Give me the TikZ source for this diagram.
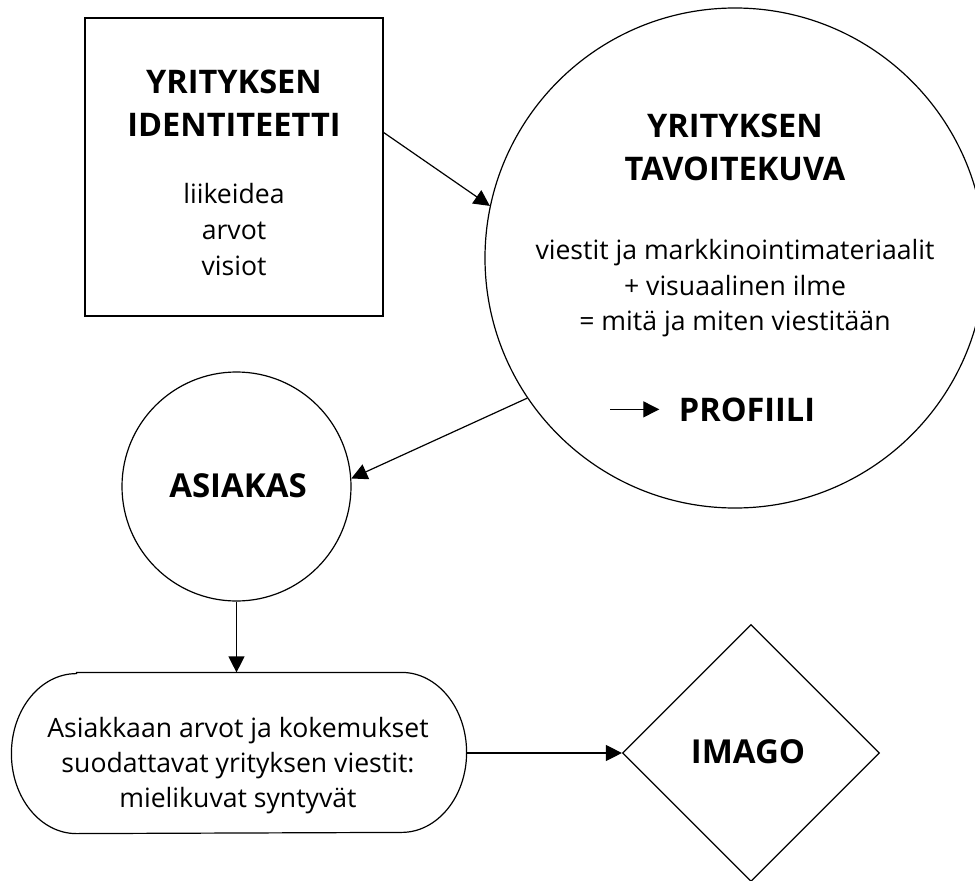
\documentclass[tikz,border=0pt]{standalone}
\usepackage{fontspec}
\setmainfont{Open Sans}
\usetikzlibrary{arrows.meta,shapes.geometric}
\begin{document}
\begin{tikzpicture}[x=1pt,y=-1pt,line width=1.2pt,
  shapebox/.style={draw, line width=1.2pt, inner sep=0pt},
  reg/.style={font=\fontsize{26.6}{32}\selectfont, anchor=base, inner sep=0pt},
  hd/.style={font=\fontsize{32.5}{38}\selectfont\bfseries, anchor=base, inner sep=0pt},
  hdl/.style={font=\fontsize{33}{40}\selectfont\bfseries, anchor=base, inner sep=0pt},
  arr/.style={-{Triangle[length=16pt,width=16pt]}, line width=1.2pt}]
\useasboundingbox (0,0) rectangle (975,881);

% shapes
\node[shapebox, rectangle, minimum width=298pt, minimum height=298pt] (sq) at (234,167) {};
\node[shapebox, circle, minimum size=500pt] (tav) at (735,258) {};
\node[shapebox, circle, minimum size=229pt] (asi) at (236.5,486.5) {};
\node[rectangle, inner sep=0pt, minimum width=454pt, minimum height=160pt] (rr) at (239,753) {};
\draw ([xshift=65pt]rr.north west) -- ([xshift=-65pt]rr.north east)
  arc[start angle=90, end angle=-90, x radius=65pt, y radius=80pt]
  -- ([xshift=65pt]rr.south west)
  arc[start angle=270, end angle=90, x radius=65pt, y radius=80pt] -- cycle;
\node[shapebox, diamond, minimum size=257pt] (dia) at (751,753) {};

% texts
\node[hd] (sqh1) at (234,93) {YRITYKSEN};
\node[hd] (sqh2) at (234,136) {IDENTITEETTI};
\node[reg] (sqt1) at (234,203) {liikeidea};
\node[reg] (sqt2) at (234,239) {arvot};
\node[reg] (sqt3) at (234,275) {visiot};

\node[hd] (tvh1) at (735,137) {YRITYKSEN};
\node[hd] (tvh2) at (735,180) {TAVOITEKUVA};
\node[reg] (tvt1) at (735,259) {viestit ja markkinointimateriaalit};
\node[reg] (tvt2) at (735,295) {+ visuaalinen ilme};
\node[reg] (tvt3) at (735,330) {= mitä ja miten viestitään};
\node[hd] (prof) at (747,421) {PROFIILI};

\node[hdl] (asit) at (238,497) {ASIAKAS};

\node[reg] (rrt1) at (238,737) {Asiakkaan arvot ja kokemukset};
\node[reg] (rrt2) at (238,772) {suodattavat yrityksen viestit:};
\node[reg] (rrt3) at (238,807) {mielikuvat syntyvät};

\node[hdl] (imt) at (748,763) {IMAGO};

% connectors
\draw[arr] (sq.13) -- (tav.168);
\draw[arr] (tav.214) -- (asi.4);
\draw[arr] (asi.south) -- (asi.south |- rr.north);
\draw[arr] (rr.east) -- (dia.west);
\draw[arr, shorten >=19pt] ([xshift=-68pt]prof.west) -- (prof.west);
\end{tikzpicture}
\end{document}
